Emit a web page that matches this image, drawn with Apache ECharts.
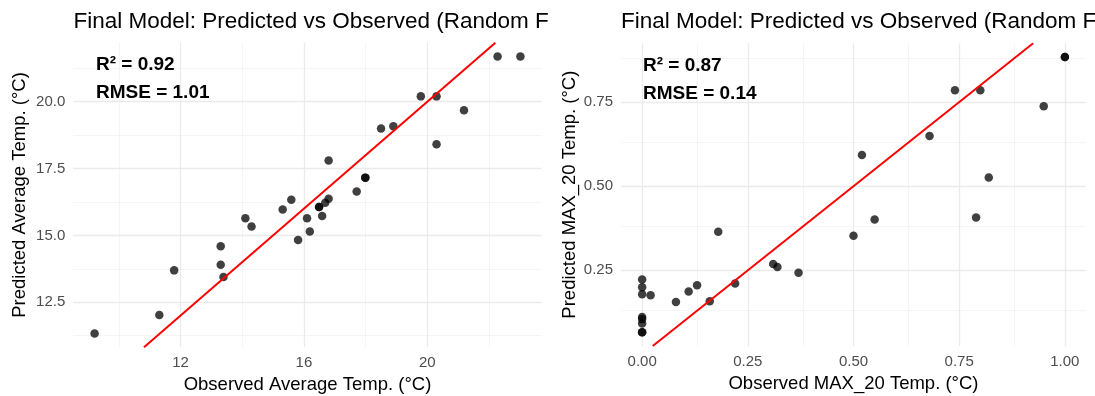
<!DOCTYPE html>
<html>
<head>
<meta charset="utf-8">
<script src="https://cdn.jsdelivr.net/npm/echarts@6/dist/echarts.min.js"></script>
<style>html,body{margin:0;padding:0;background:#fff}#chart{width:1095px;height:396px}</style>
</head>
<body>
<div id="chart"></div>
<script>
// left panel: average temp
const avgObserved = [9.21, 11.31, 11.79, 13.30, 13.30, 13.39, 14.10, 14.30, 15.31, 15.59, 15.81, 16.10, 16.19, 16.49, 16.49, 16.59, 16.69, 16.80, 16.80, 17.71, 17.99, 17.99, 18.50, 18.90, 19.79, 20.30, 20.30, 21.19, 22.28, 23.02];
const avgPredicted = [11.33, 12.02, 13.69, 14.59, 13.90, 13.44, 15.64, 15.33, 15.97, 16.33, 14.83, 15.64, 15.14, 16.06, 16.06, 15.72, 16.22, 16.37, 17.80, 16.64, 17.16, 17.16, 19.00, 19.08, 20.20, 20.20, 18.41, 19.68, 21.69, 21.69];
const avgXTicks = [12, 16, 20];
const avgXMinor = [10, 14, 18, 22];
const avgYTicks = [12.5, 15.0, 17.5, 20.0];
const avgYMinor = [11.25, 13.75, 16.25, 18.75, 21.25];

// right panel: MAX_20 temp
const maxObserved = [0, 0, 0, 0, 0, 0, 0, 0, 0.02, 0.08, 0.11, 0.13, 0.16, 0.18, 0.22, 0.31, 0.32, 0.37, 0.50, 0.52, 0.55, 0.68, 0.74, 0.79, 0.80, 0.82, 0.95, 1.00, 1.00];
const maxPredicted = [0.223, 0.200, 0.179, 0.111, 0.105, 0.092, 0.066, 0.066, 0.176, 0.156, 0.187, 0.206, 0.158, 0.365, 0.211, 0.269, 0.260, 0.243, 0.353, 0.593, 0.401, 0.649, 0.785, 0.407, 0.785, 0.526, 0.738, 0.884, 0.884];
const maxXTicks = [0, 0.25, 0.5, 0.75, 1.0];
const maxXMinor = [0.125, 0.375, 0.625, 0.875];
const maxYTicks = [0.25, 0.5, 0.75];
const maxYMinor = [0.125, 0.375, 0.625, 0.875];

const FONT = '"Liberation Sans", Arial, sans-serif';
const chart = echarts.init(document.getElementById('chart'));

// ggplot style 5% expansion
function expand(arr) {
  const lo = Math.min(...arr), hi = Math.max(...arr);
  const pad = (hi - lo) * 0.05;
  return [lo - pad, hi + pad];
}

function gridLines(xMajor, xMinor, yMajor, yMinor) {
  const major = { color: '#ebebeb', width: 1.3, type: 'solid' };
  const minor = { color: '#f2f2f2', width: 0.8, type: 'solid' };
  return []
    .concat(xMinor.map(v => ({ xAxis: v, lineStyle: minor })))
    .concat(yMinor.map(v => ({ yAxis: v, lineStyle: minor })))
    .concat(xMajor.map(v => ({ xAxis: v, lineStyle: major })))
    .concat(yMajor.map(v => ({ yAxis: v, lineStyle: major })));
}

function valueAxis(idx, range, ticks, fmt, name, nameGap, margin) {
  return {
    type: 'value',
    gridIndex: idx,
    min: range[0],
    max: range[1],
    name: name,
    nameLocation: 'middle',
    nameGap: nameGap,
    nameTextStyle: { fontSize: 18.5, color: '#000', fontFamily: FONT },
    axisLine: { show: false },
    axisTick: { show: false },
    splitLine: { show: false },
    axisLabel: {
      customValues: ticks,
      formatter: v => v.toFixed(fmt),
      color: '#4d4d4d',
      fontSize: 15,
      fontFamily: FONT,
      margin: margin
    }
  };
}

const avgX = expand(avgObserved), avgY = expand(avgPredicted);
const maxX = expand(maxObserved), maxY = expand(maxPredicted);
const avgLine = [Math.max(avgX[0], avgY[0]), Math.min(avgX[1], avgY[1])];
const maxLine = [Math.max(maxX[0], maxY[0]), Math.min(maxX[1], maxY[1])];

function panelSeries(idx, obs, pred, lineRange, gl) {
  return [
    {
      type: 'line', xAxisIndex: idx, yAxisIndex: idx, data: [], z: 0,
      markLine: { silent: true, symbol: ['none', 'none'], label: { show: false }, animation: false, z: 0, emphasis: { disabled: true }, data: gl }
    },
    {
      type: 'scatter', xAxisIndex: idx, yAxisIndex: idx, z: 2,
      symbolSize: 8.5,
      itemStyle: { color: '#000', opacity: 0.75 },
      data: obs.map((v, i) => [v, pred[i]])
    },
    {
      type: 'line', xAxisIndex: idx, yAxisIndex: idx, z: 3,
      showSymbol: false, symbol: 'none',
      lineStyle: { color: '#ff0000', width: 2 },
      data: [[lineRange[0], lineRange[0]], [lineRange[1], lineRange[1]]]
    }
  ];
}

const titleText = 'Final Model: Predicted vs Observed (Random Forest)';
function titleOpt(left) {
  return {
    text: titleText, left: left, top: 10, padding: 0,
    textStyle: { fontSize: 22.5, fontWeight: 'normal', color: '#000', fontFamily: FONT, width: 481, overflow: 'truncate', ellipsis: '' }
  };
}

function note(left, top, text) {
  return { type: 'text', left: left, top: top, z: 100, style: { text: text, font: 'bold 19px ' + FONT, fill: '#000' } };
}

chart.setOption({
  animation: false,
  title: [titleOpt(73.5), titleOpt(621)],
  grid: [
    { left: 73.3, right: 553.3, top: 42.7, bottom: 48.7, outerBoundsMode: 'none' },
    { left: 621, right: 9, top: 43.3, bottom: 50, outerBoundsMode: 'none' }
  ],
  xAxis: [
    valueAxis(0, avgX, avgXTicks, 0, 'Observed Average Temp. (°C)', 28.5, 8),
    valueAxis(1, maxX, maxXTicks, 2, 'Observed MAX_20 Temp. (°C)', 28, 8)
  ],
  yAxis: [
    valueAxis(0, avgY, avgYTicks, 1, 'Predicted Average Temp. (°C)', 44, 8),
    valueAxis(1, maxY, maxYTicks, 2, 'Predicted MAX_20 Temp. (°C)', 42, 8)
  ],
  graphic: [
    note(96, 55.5, 'R² = 0.92'),
    note(96, 83, 'RMSE = 1.01'),
    note(643, 56.5, 'R² = 0.87'),
    note(643, 84, 'RMSE = 0.14')
  ],
  series: []
    .concat(panelSeries(0, avgObserved, avgPredicted, avgLine, gridLines(avgXTicks, avgXMinor, avgYTicks, avgYMinor)))
    .concat(panelSeries(1, maxObserved, maxPredicted, maxLine, gridLines(maxXTicks, maxXMinor, maxYTicks, maxYMinor)))
});
</script>
</body>
</html>
